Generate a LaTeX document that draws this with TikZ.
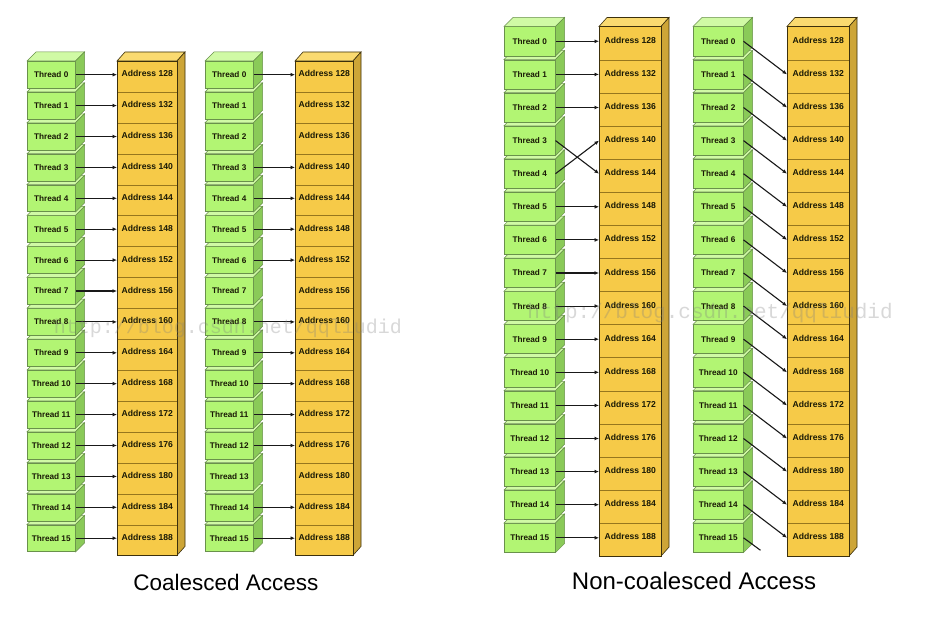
\documentclass[tikz,border=0pt]{standalone}
\usepackage{fontspec}
\setmainfont{Liberation Sans}
\newfontfamily\wmfont{Liberation Mono}
\usetikzlibrary{arrows.meta}
\definecolor{gfront}{RGB}{178,245,115}
\definecolor{gtop}{RGB}{208,250,165}
\definecolor{gside}{RGB}{138,202,88}
\definecolor{gedge}{RGB}{105,145,75}
\definecolor{ofront}{RGB}{246,202,72}
\definecolor{otop}{RGB}{250,218,112}
\definecolor{oside}{RGB}{205,165,55}
\definecolor{oedge}{RGB}{60,48,12}
\definecolor{osep}{RGB}{150,118,30}
\definecolor{txt}{RGB}{25,25,5}
\tikzset{
  threadbox/.style={rectangle,anchor=north west,inner sep=0pt,fill=gfront,draw=gedge,line width=0.5pt,
    font=\bfseries\fontsize{8.2}{9}\selectfont,text=txt},
  addrbox/.style={rectangle,anchor=north west,inner sep=0pt,fill=ofront,draw=osep,line width=0.6pt,
    text height=6pt,text depth=6pt,font=\bfseries\fontsize{8.6}{9}\selectfont,text=txt},
  gtopf/.style={fill=gtop,draw=gedge,line width=0.5pt},
  gsidef/.style={fill=gside,draw=gedge,line width=0.5pt},
  otopf/.style={fill=otop,draw=oedge,line width=0.6pt},
  osidef/.style={fill=oside,draw=oedge,line width=0.6pt},
  conn/.style={draw=black!90,line width=1.1pt,-{Latex[length=4.5pt,width=4pt]}},
  connfree/.style={draw=black!90,line width=1.1pt},
  title/.style={font=\fontsize{22.5}{26}\selectfont,text=black},
  wm/.style={font=\wmfont\fontsize{20}{22}\selectfont,text=gray,opacity=0.3}
}
% #1 id, #2 gx0, #3 gx1, #4 ox0, #5 ox1, #6 top, #7 pitch
\newcommand\drawpanel[7]{%
  \pgfmathsetmacro\gw{#3-#2}%
  \pgfmathsetmacro\gh{#7-4}%
  \pgfmathsetmacro\ow{#5-#4}%
  \pgfmathsetmacro\ob{#6+16*#7}%
  \foreach \i in {15,14,...,0}{%
    \pgfmathsetmacro\yt{#6+#7*\i}%
    \node[threadbox,minimum width=\gw pt,minimum height=\gh pt] (t#1-\i) at (#2,\yt) {Thread \i};
    \filldraw[gtopf] (t#1-\i.north west) -- ++(9,-9) -- ([shift={(9,-9)}]t#1-\i.north east) -- (t#1-\i.north east) -- cycle;
    \filldraw[gsidef] (t#1-\i.north east) -- ++(9,-9) -- ([shift={(9,-9)}]t#1-\i.south east) -- (t#1-\i.south east) -- cycle;
  }
  \filldraw[otopf] (#4,#6) -- ++(8,-9) -- ({#5+8},{#6-9}) -- (#5,#6) -- cycle;
  \filldraw[osidef] (#5,#6) -- ++(8,-9) -- ({#5+8},{\ob-9}) -- (#5,\ob) -- cycle;
  \foreach \i in {0,...,15}{%
    \pgfmathsetmacro\yt{#6+#7*\i}%
    \pgfmathtruncatemacro\av{128+4*\i}%
    \node[addrbox,minimum width=\ow pt,minimum height=#7 pt] (a#1-\i) at (#4,\yt) {Address \av};
  }
  \draw[oedge,line width=0.7pt] (#4,#6) rectangle (#5,\ob);
}
\begin{document}
\begin{tikzpicture}[x=1pt,y=-1pt]
\useasboundingbox[fill=white] (0,0) rectangle (932,628);
\drawpanel{1}{27}{75}{117}{177}{61}{30.9}
\drawpanel{2}{205}{253}{295}{353}{61}{30.9}
\drawpanel{3}{504}{555}{599}{661}{26.5}{33.1}
\drawpanel{4}{693}{743}{787}{849}{26.5}{33.1}
% panel 1: all coalesced
\foreach \i in {0,...,15}
  \draw[conn] (t1-\i.east) -- (t1-\i.east -| a1-\i.west);
% panel 2: some threads inactive
\foreach \i in {0,3,4,5,6,8,9,10,11,12,14,15}
  \draw[conn] (t2-\i.east) -- (t2-\i.east -| a2-\i.west);
% panel 3: permuted threads 3 and 4
\foreach \i in {0,1,2,5,6,7,8,9,10,11,12,13,14,15}
  \draw[conn] (t3-\i.east) -- (t3-\i.east -| a3-\i.west);
\draw[conn] (t3-3.east) -- (t3-4.east -| a3-4.west);
\draw[conn] (t3-4.east) -- (t3-3.east -| a3-3.west);
% panel 4: misaligned
\foreach \i [evaluate=\i as \j using int(\i+1)] in {0,...,14}
  \draw[conn] (t4-\i.east) -- (t4-\j.east -| a4-\j.west);
\coordinate (t15end) at ([shift={(17,12.5)}]t4-15.east);
\draw[connfree] (t4-15.east) -- (t15end);
% titles
\node[title] (ttl1) at (226,582) {Coalesced Access};
\node[title,font=\fontsize{24}{28}\selectfont] (ttl2) at (694,581) {Non-coalesced Access};
% watermark
\node[wm] (wm1) at (228,328) {http://blog.csdn.net/qqliudid};
\node[wm,font=\wmfont\fontsize{21}{23}\selectfont] (wm2) at (710,313) {http://blog.csdn.net/qqliudid};
\end{tikzpicture}
\end{document}
